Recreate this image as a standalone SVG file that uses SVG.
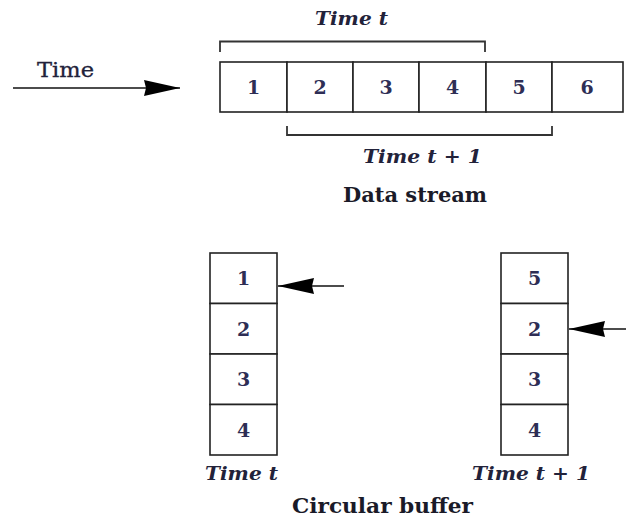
<svg xmlns="http://www.w3.org/2000/svg" width="626" height="519" viewBox="0 0 626 519">
<defs>
<style>
.cell{fill:#fff;stroke:#222;stroke-width:1.6}
.br{fill:none;stroke:#333;stroke-width:1.8}
.ln{fill:none;stroke:#111;stroke-width:1.6}
.num{font-family:"DejaVu Serif","Liberation Serif",serif;font-size:19px;font-weight:bold;fill:#2e2e55;text-anchor:middle}
.lab{font-family:"DejaVu Serif","Liberation Serif",serif;font-size:18.5px;font-style:italic;font-weight:bold;fill:#22223a}
.ttl{font-family:"DejaVu Serif","Liberation Serif",serif;font-size:20px;font-weight:bold;fill:#1a1a28}
.reg{font-family:"DejaVu Serif","Liberation Serif",serif;font-size:20px;fill:#22223a;stroke:#22223a;stroke-width:0.3}
</style>
<marker id="ah" markerUnits="userSpaceOnUse" markerWidth="36" markerHeight="16" refX="36" refY="8" orient="auto">
<path d="M0,0 L36,8 L0,16 L2,8 Z" fill="#000"/>
</marker>
</defs>
<rect width="626" height="519" fill="#fff"/>

<g id="time-label"><text class="reg" x="37" y="77" textLength="57" lengthAdjust="spacingAndGlyphs">Time</text></g>

<g id="data-stream">
<rect class="cell" x="220" y="62" width="67" height="50"/>
<rect class="cell" x="287" y="62" width="66" height="50"/>
<rect class="cell" x="353" y="62" width="66" height="50"/>
<rect class="cell" x="419" y="62" width="67" height="50"/>
<rect class="cell" x="486" y="62" width="66" height="50"/>
<rect class="cell" x="552" y="62" width="71" height="50"/>
<text class="num" x="253.5" y="94">1</text>
<text class="num" x="320" y="94">2</text>
<text class="num" x="386" y="94">3</text>
<text class="num" x="452.5" y="94">4</text>
<text class="num" x="519" y="94">5</text>
<text class="num" x="587" y="94">6</text>
</g>

<g id="bracket-t">
<path class="br" d="M220,52 V41.5 H485 V52"/>
<text class="lab" x="315" y="25" textLength="73" lengthAdjust="spacingAndGlyphs">Time t</text>
</g>
<g id="bracket-t1">
<path class="br" d="M287,126 V135 H552 V126"/>
<text class="lab" x="363" y="163" textLength="119" lengthAdjust="spacingAndGlyphs">Time t + 1</text>
</g>
<g id="data-stream-title"><text class="ttl" x="343" y="202" textLength="144" lengthAdjust="spacingAndGlyphs">Data stream</text></g>

<g id="buffer-t">
<rect class="cell" x="210" y="253" width="67" height="50.5"/>
<rect class="cell" x="210" y="303.5" width="67" height="50.5"/>
<rect class="cell" x="210" y="354" width="67" height="50.5"/>
<rect class="cell" x="210" y="404.5" width="67" height="50.5"/>
<text class="num" x="243.5" y="285">1</text>
<text class="num" x="243.5" y="336">2</text>
<text class="num" x="243.5" y="386">3</text>
<text class="num" x="243.5" y="437">4</text>
<text class="lab" x="205" y="480" textLength="73" lengthAdjust="spacingAndGlyphs">Time t</text>
</g>

<g id="buffer-t1">
<rect class="cell" x="501" y="253" width="67" height="50.5"/>
<rect class="cell" x="501" y="303.5" width="67" height="50.5"/>
<rect class="cell" x="501" y="354" width="67" height="50.5"/>
<rect class="cell" x="501" y="404.5" width="67" height="50.5"/>
<text class="num" x="534.5" y="285">5</text>
<text class="num" x="534.5" y="336">2</text>
<text class="num" x="534.5" y="386">3</text>
<text class="num" x="534.5" y="437">4</text>
<text class="lab" x="472" y="480" textLength="118" lengthAdjust="spacingAndGlyphs">Time t + 1</text>
</g>

<g id="circular-buffer-title"><text class="ttl" x="292" y="513" textLength="181" lengthAdjust="spacingAndGlyphs">Circular buffer</text></g>

<g id="connectors">
<line class="ln" x1="13" y1="88" x2="180" y2="88" marker-end="url(#ah)"/>
<line class="ln" x1="344" y1="286" x2="278" y2="286" marker-end="url(#ah)"/>
<line class="ln" x1="626" y1="329" x2="569" y2="329" marker-end="url(#ah)"/>
</g>
</svg>
